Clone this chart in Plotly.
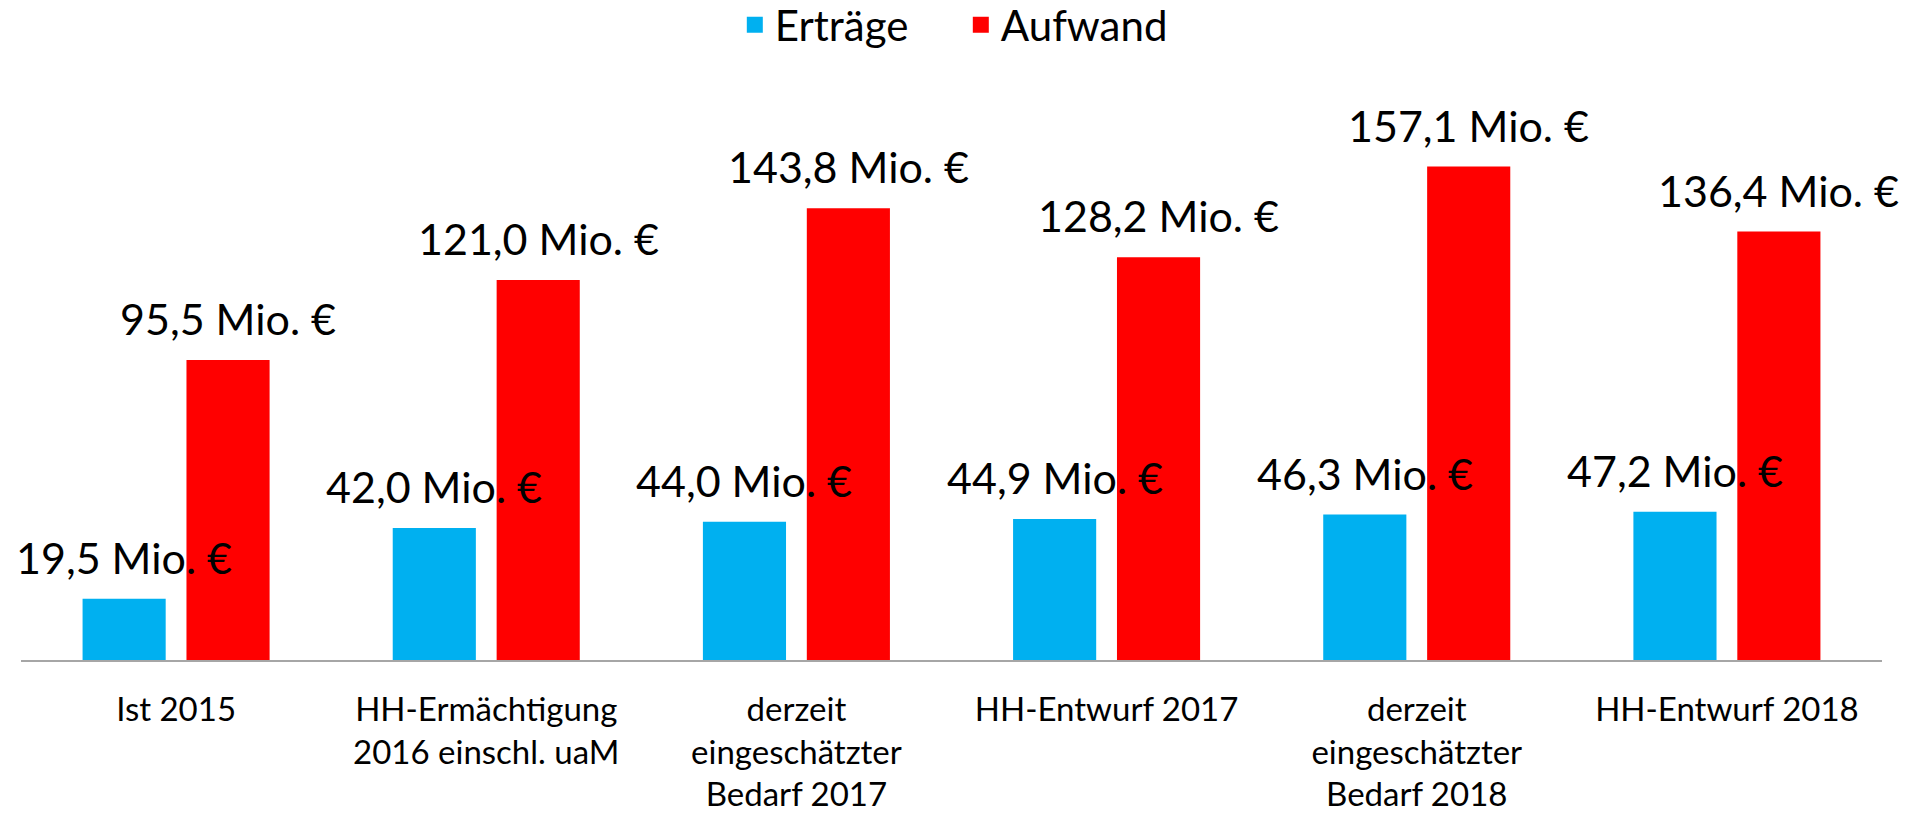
import plotly.graph_objects as go

categories = [
    "Ist 2015",
    "HH-Ermächtigung<br>2016 einschl. uaM",
    "derzeit<br>eingeschätzter<br>Bedarf 2017",
    "HH-Entwurf 2017",
    "derzeit<br>eingeschätzter<br>Bedarf 2018",
    "HH-Entwurf 2018",
]
ertraege = [19.5, 42.0, 44.0, 44.9, 46.3, 47.2]
aufwand = [95.5, 121.0, 143.8, 128.2, 157.1, 136.4]
series_names = ["Erträge", "Aufwand"]

BLUE = "#00B0F0"
RED = "#FF0000"
FONT = "Lato"

W, H = 1924, 815
ML, MR, MT, MB = 21, 42, 100, 155
BARGAP = 0.33
BARGROUPGAP = 0.2


def fmt(v):
    return f"{v:.1f}".replace(".", ",") + " Mio. €"


fig = go.Figure()
for name, vals, col in ((series_names[0], ertraege, BLUE), (series_names[1], aufwand, RED)):
    fig.add_trace(go.Bar(name=name, x=categories, y=vals, marker_color=col,
                         marker_line_width=0, showlegend=False, hoverinfo="x+y"))
# legend entries (larger square keys)
for name, col in ((series_names[0], BLUE), (series_names[1], RED)):
    fig.add_trace(go.Scatter(name=name, x=[None], y=[None], mode="markers",
                             marker=dict(symbol="square", size=27, color=col),
                             showlegend=True, hoverinfo="skip"))

# value labels above each bar
plot_w = W - ML - MR
cat_px = plot_w / len(categories)
offset = (1 - BARGAP) * cat_px / 4
annotations = []
for series, sign in ((ertraege, -1), (aufwand, 1)):
    for c, v in zip(categories, series):
        annotations.append(dict(
            x=c, y=v, xref="x", yref="y", text=fmt(v), showarrow=False,
            xanchor="center", yanchor="bottom", xshift=sign * offset, yshift=14,
            font=dict(family=FONT, size=43, color="#000000"),
        ))

fig.update_layout(
    template="none",
    width=W, height=H,
    margin=dict(l=ML, r=MR, t=MT, b=MB, pad=0, autoexpand=False),
    paper_bgcolor="white", plot_bgcolor="white",
    barmode="group", bargap=BARGAP, bargroupgap=BARGROUPGAP,
    showlegend=True,
    legend=dict(orientation="h", x=0.505, xanchor="center", y=1.134, yanchor="middle",
                font=dict(family=FONT, size=42, color="#000000"),
                entrywidth=181, bgcolor="rgba(0,0,0,0)", borderwidth=0),
    annotations=annotations,
    font=dict(family=FONT, color="#000000"),
)
fig.update_xaxes(showline=True, linecolor="#A6A6A6", linewidth=2, showgrid=False,
                 ticks="", zeroline=False, automargin=False, ticklabelstandoff=19,
                 range=[-0.5, len(categories) - 0.5], autorange=False,
                 tickfont=dict(family=FONT, size=33, color="#000000"))
fig.update_yaxes(visible=False, range=[0, 178.3], showgrid=False, zeroline=False,
                 automargin=False)

fig.write_html("out.html", config={"displayModeBar": False},
               post_script="document.body.style.margin='0';document.body.style.overflow='hidden';")
